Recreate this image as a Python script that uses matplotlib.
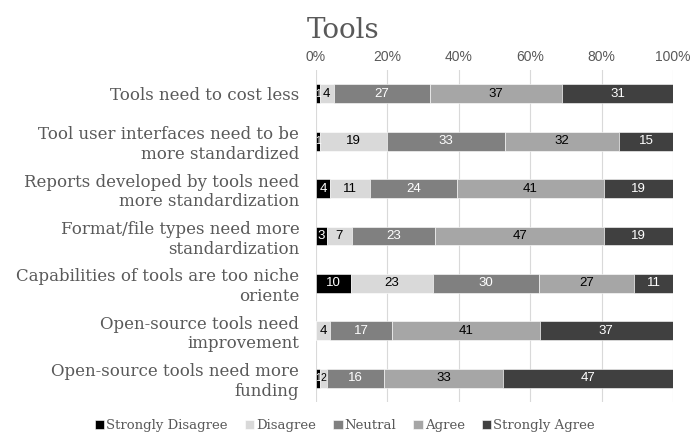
import numpy as np
import matplotlib
matplotlib.use("Agg")
import matplotlib.pyplot as plt
from matplotlib.ticker import MultipleLocator, FuncFormatter

# survey statements, top to bottom
statements = [
    "Tools need to cost less",
    "Tool user interfaces need to be\nmore standardized",
    "Reports developed by tools need\nmore standardization",
    "Format/file types need more\nstandardization",
    "Capabilities of tools are too niche\noriente",
    "Open-source tools need\nimprovement",
    "Open-source tools need more\nfunding",
]
levels = ["Strongly Disagree", "Disagree", "Neutral", "Agree", "Strongly Agree"]

# response percentages per level (same order as statements)
strongly_disagree = [1, 1, 4, 3, 10, 0, 1]
disagree = [4, 19, 11, 7, 23, 4, 2]
neutral = [27, 33, 24, 23, 30, 17, 16]
agree = [37, 32, 41, 47, 27, 41, 33]
strongly_agree = [31, 15, 19, 19, 11, 37, 47]

colors = ["#000000", "#d9d9d9", "#808080", "#a6a6a6", "#404040"]
text_colors = ["white", "black", "white", "black", "white"]
grey_txt = "#595959"

data = np.array([strongly_disagree, disagree, neutral, agree, strongly_agree], dtype=float)
# 100% stacked: scale every row to its total
shares = data / data.sum(axis=0) * 100

fig = plt.figure(figsize=(6.94, 4.32), dpi=100)
ax = fig.add_axes([0.4553, 0.0694, 0.5144, 0.7686])

y = np.arange(len(statements))
left = np.zeros(len(statements))
for k, lev in enumerate(levels):
    ax.barh(y, shares[k], left=left, height=0.4, color=colors[k], label=lev,
            edgecolor="white", linewidth=0.4, zorder=3)
    for i in range(len(statements)):
        if data[k, i] > 0:
            # tiny segments get a smaller label so neighbours don't collide
            fs = 7.5 if data[k, i] < 3 else 9.5
            ax.text(left[i] + shares[k, i] / 2, y[i], "%d" % data[k, i],
                    ha="center", va="center", fontsize=fs, color=text_colors[k],
                    family="Liberation Sans", zorder=4)
    left += shares[k]

ax.set_xlim(0, 100)
ax.set_ylim(len(statements) - 0.5, -0.5)
ax.xaxis.set_major_locator(MultipleLocator(20))
ax.xaxis.set_major_formatter(FuncFormatter(lambda v, p: "%d%%" % v))
ax.xaxis.tick_top()
ax.tick_params(axis="x", length=0, pad=4, labelsize=10, labelcolor=grey_txt)
for lab in ax.get_xticklabels():
    lab.set_family("Liberation Sans")
ax.grid(axis="x", color="#d9d9d9", linewidth=0.8, zorder=0)
for s in ax.spines.values():
    s.set_visible(False)

ax.set_yticks(y)
ax.set_yticklabels(statements, fontsize=12, color=grey_txt, family="DejaVu Serif",
                   linespacing=1.2)
ax.tick_params(axis="y", length=0, pad=12)

fig.text(0.495, 0.93, "Tools", ha="center", va="center", fontsize=20,
         color=grey_txt, family="DejaVu Serif")

leg = fig.legend(loc="lower center", bbox_to_anchor=(0.497, -0.028), ncol=5, frameon=False,
                 handlelength=0.7, handleheight=0.7, handletextpad=0.15, columnspacing=1.3,
                 prop={"family": "DejaVu Serif", "size": 9.5})
for t in leg.get_texts():
    t.set_color(grey_txt)

plt.savefig("out.png", dpi=100)
